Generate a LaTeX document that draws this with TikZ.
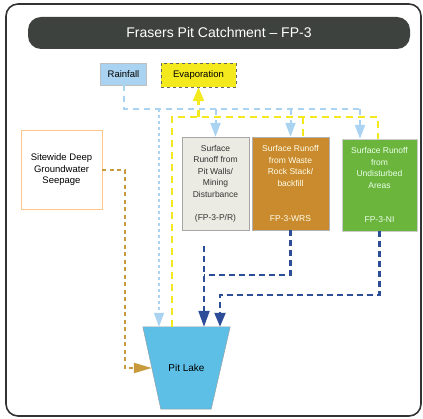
\documentclass[tikz,border=0pt]{standalone}
\usepackage{fontspec}
\setmainfont{Liberation Sans}
\usetikzlibrary{arrows.meta,calc}

\definecolor{titlegray}{HTML}{3D423F}
\definecolor{rainblue}{HTML}{A9D3F0}
\definecolor{evapyellow}{HTML}{F4E91C}
\definecolor{pitgray}{HTML}{ECEBE3}
\definecolor{wrsbrown}{HTML}{C98B2D}
\definecolor{nigreen}{HTML}{6BB53D}
\definecolor{seeporange}{HTML}{C99A3C}
\definecolor{lakeblue}{HTML}{5DBFE6}
\definecolor{rundark}{HTML}{2E4D98}

\tikzset{
    box/.style={draw, inner sep=0pt, align=center, font=\fontsize{8.5}{11.5}\selectfont},
    rainline/.style={draw=rainblue, line width=2pt, dash pattern=on 6pt off 5pt},
    evapline/.style={draw=evapyellow, line width=2.2pt, dash pattern=on 7pt off 5pt},
    seepline/.style={draw=seeporange, line width=2.2pt, dash pattern=on 4pt off 3.5pt},
    runline/.style={draw=rundark, line width=2.2pt, dash pattern=on 6pt off 4pt}
}

\begin{document}
\begin{tikzpicture}[
    x=1pt, y=-1pt,
    >={Triangle[width=10pt,length=14pt]} % Default arrow tip
]
    \useasboundingbox (0,0) rectangle (423,419);

    % Frame and title
    \draw[line width=1.6pt, black!80, rounded corners=12pt] (6,4) rectangle (421,416);
    \node[fill=titlegray, rounded corners=13pt, minimum width=382pt, minimum height=32pt,
          text=white, font=\fontsize{14}{16}\selectfont] (title) at (219,33) {Frasers Pit Catchment -- FP-3};

    % Inputs
    \node[box, draw=black!25, fill=rainblue, minimum width=46pt, minimum height=22pt,
          font=\fontsize{9.5}{11}\selectfont] (rain) at (123.5,74) {Rainfall};
    \node[box, draw=black!60, dashed, fill=evapyellow, minimum width=75pt, minimum height=24pt,
          font=\fontsize{9.5}{11}\selectfont] (evap) at (198.5,75) {Evaporation};
    \node[box, draw=orange!45, fill=white, minimum width=81pt, minimum height=79pt,
          font=\fontsize{9.5}{11.5}\selectfont] (seep) at (61.5,170) {Sitewide Deep\\Groundwater\\Seepage};

    % Catchment areas
    \node[box, draw=black!35, fill=pitgray, text=black!80, minimum width=67pt, minimum height=93pt] (pr) at (215.5,183.5)
        {Surface\\Runoff from\\Pit Walls/\\Mining\\Disturbance\\[11.5pt](FP-3-P/R)};
    \node[box, draw=black!30, fill=wrsbrown, text=white!92!yellow, minimum width=77pt, minimum height=93pt] (wrs) at (290.5,183.5)
        {Surface Runoff\\from Waste\\Rock Stack/\\backfill\\[23.5pt]FP-3-WRS};
    \node[box, draw=black!20, fill=nigreen, text=white!92!green, minimum width=75pt, minimum height=92pt] (ni) at (379.5,185)
        {Surface Runoff\\from\\Undisturbed\\Areas\\[22.5pt]FP-3-NI};

    % Pit lake (tapered outline drawn on the node's corners)
    \node[inner sep=0pt, minimum width=87pt, minimum height=82pt] (lake) at (186.5,368) {};
    \draw[draw=black!40, fill=lakeblue] (lake.north west) -- (lake.north east)
        -- ($(lake.south east)+(-19,0)$) -- ($(lake.south west)+(18,0)$) -- cycle;
    \node[font=\fontsize{10}{12}\selectfont] (laketext) at (lake) {Pit Lake};
    \coordinate (lakeside) at ($(lake.west)+(9,0)$);

    % Rainfall lines
    \coordinate (rainbus) at (360,109);
    \coordinate (rainlake) at (159,109);
    \draw[rainline] (rain.south) |- (rainbus);
    \draw[rainline, ->] (rainbus -| pr.north) -- (pr.north);
    \draw[rainline, ->] (rainbus -| wrs.north) -- (wrs.north);
    \draw[rainline, ->] (rainbus) -- (rainbus |- ni.north);
    \draw[rainline, line width=1.5pt, dash pattern=on 3pt off 3pt, ->] (rainlake) -- (rainlake |- lake.north);

    % Evaporation lines
    \coordinate (evapbus) at (378,117);
    \coordinate (evaplake) at (172,117);
    \coordinate (evapwrs) at (303,117);
    \draw[evapline] (evaplake |- lake.north) -- (evaplake) -- (evapbus) -- (evapbus |- ni.north);
    \draw[evapline] (evapwrs) -- (evapwrs |- wrs.north);
    \draw[evapline, ->, >={Triangle[width=11pt,length=14pt]}] (evaplake -| evap.south) -- (evap.south);

    % Groundwater seepage
    \coordinate (seepbend) at (125,368);
    \draw[seepline, ->, >={Triangle[width=10pt,length=18pt]}] (seep.east) -| (seepbend) -- (lakeside);

    % Surface runoff to pit lake
    \coordinate (prstart) at (204,246);
    \coordinate (wrsbend) at (291,275);
    \coordinate (niend) at (220,295);
    \draw[runline, ->, >={Triangle[width=11pt,length=16pt]}] (prstart) -- (prstart |- lake.north);
    \draw[runline] (wrs.south) |- (wrsbend -| prstart);
    \draw[runline, ->, >={Triangle[width=11pt,length=14pt]}] (ni.south) |- (niend) -- (niend |- lake.north);

\end{tikzpicture}
\end{document}
